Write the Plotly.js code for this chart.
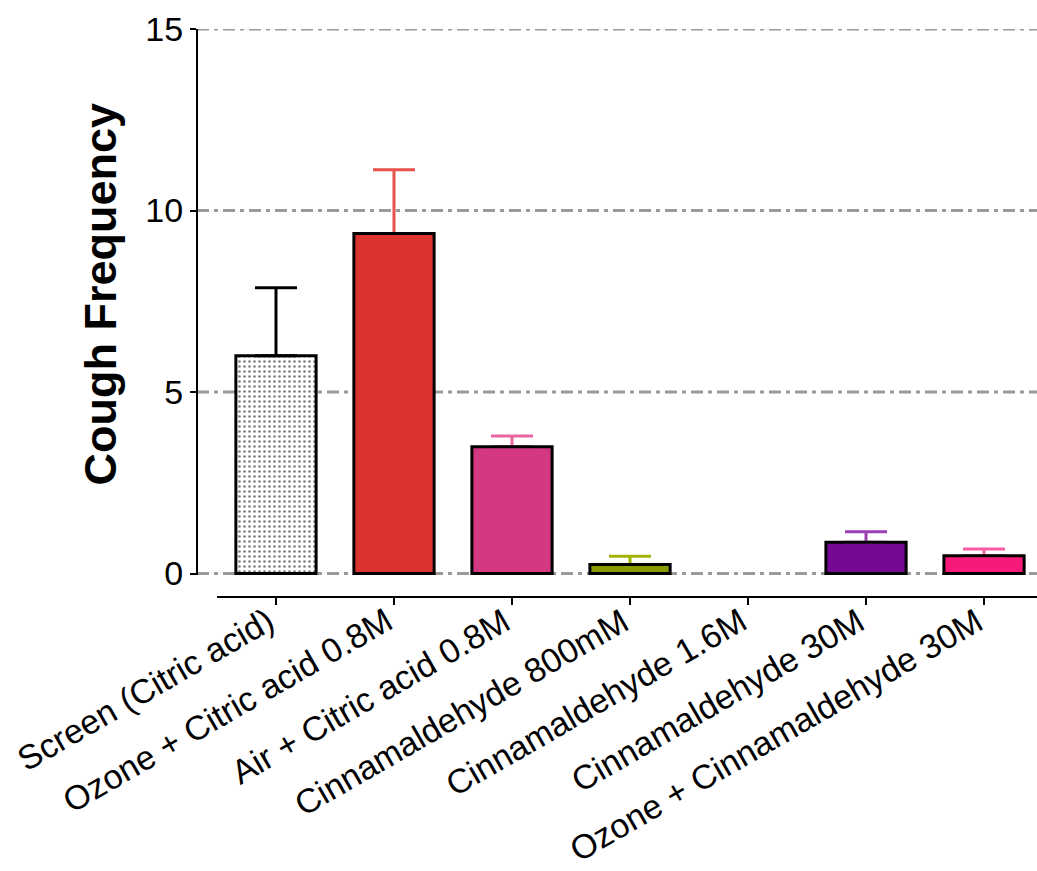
<!DOCTYPE html>
<html>
<head>
<meta charset="utf-8">
<script src="https://cdn.plot.ly/plotly-3.0.1.min.js"></script>
<style>body{margin:0;background:#fff}#chart{width:1037px;height:871px}</style>
</head>
<body>
<div id="chart"></div>
<script>
// Data
const categories = [
  "Screen (Citric acid)",
  "Ozone + Citric acid 0.8M",
  "Air + Citric acid 0.8M",
  "Cinnamaldehyde 800mM",
  "Cinnamaldehyde 1.6M",
  "Cinnamaldehyde 30M",
  "Ozone + Cinnamaldehyde 30M"
];
const means = [6.0, 9.37, 3.49, 0.25, 0, 0.86, 0.49];
const errorsUp = [1.87, 1.75, 0.3, 0.23, 0, 0.29, 0.19];
const fillColors = ["#ffffff", "#DC3331", "#D43881", "#8A9B00", "#ffffff", "#750895", "#F81A7A"];
const errorColors = ["#000000", "#E8504C", "#E8649F", "#A3B500", "#000000", "#9B40B4", "#F75DA2"];
const yTickVals = [0, 5, 10, 15];
const yTickText = ["0", "5", "10", "15"];
const yTitle = "Cough Frequency";

const FONT = "'Liberation Sans', Arial, sans-serif";

const traces = categories.map((c, i) => {
  const t = {
    type: "bar",
    x: [c],
    y: [means[i]],
    width: 0.68,
    marker: {
      color: fillColors[i],
      line: {color: "#000000", width: 0}
    },
    error_y: {
      type: "data",
      symmetric: false,
      array: [errorsUp[i]],
      arrayminus: [0],
      color: errorColors[i],
      thickness: 3,
      width: 21,
      visible: means[i] > 0
    },
    showlegend: false,
    hoverinfo: "skip"
  };
  if (i === 0) {
    t.marker.pattern = {shape: ".", fgcolor: "#000000", bgcolor: "#ffffff", size: 5, solidity: 0.22, fillmode: "overlay"};
  }
  return t;
});

// outline bars drawn on top (cover the lower caps of the error bars)
const outline = {
  type: "bar",
  x: categories,
  y: means,
  width: 0.68,
  marker: {
    color: "rgba(0,0,0,0)",
    line: {color: "#000000", width: means.map(v => v > 0 ? 3 : 0)}
  },
  showlegend: false,
  hoverinfo: "skip"
};

const gridShapes = yTickVals.map(v => ({
  type: "line", xref: "paper", yref: "y",
  x0: 0, x1: 1, y0: v, y1: v,
  line: {color: "#9a9a9a", width: 3, dash: "12px,5px,4px,5px"},
  layer: "below"
}));

const labelAnnotations = categories.map(c => ({
  text: c,
  xref: "x", yref: "paper",
  x: c, y: -0.004,
  xanchor: "right", yanchor: "top",
  xshift: 6,
  textangle: -30,
  showarrow: false,
  borderpad: 0,
  font: {size: 34, family: FONT, color: "#000000"}
}));

const layout = {
  width: 1037,
  height: 871,
  margin: {l: 197, r: 0, t: 29, b: 274, pad: 0},
  paper_bgcolor: "#ffffff",
  plot_bgcolor: "#ffffff",
  barmode: "overlay",
  font: {family: FONT, color: "#000000"},
  xaxis: {
    type: "category",
    domain: [0.0238, 1],
    range: [-0.5, 6.449],
    anchor: "free",
    position: 0,
    showline: true,
    linecolor: "#000000",
    linewidth: 2,
    ticks: "outside",
    ticklen: 7,
    tickwidth: 2,
    tickcolor: "#000000",
    showticklabels: false,
    showgrid: false,
    zeroline: false,
    fixedrange: true
  },
  yaxis: {
    domain: [0.0387, 1],
    range: [-0.04, 15],
    anchor: "free",
    position: 0,
    tickvals: yTickVals,
    ticktext: yTickText,
    showline: true,
    linecolor: "#000000",
    linewidth: 2,
    ticks: "outside",
    ticklen: 6,
    tickwidth: 2,
    tickcolor: "#000000",
    tickfont: {size: 34, family: FONT, color: "#000000"},
    showgrid: false,
    zeroline: false,
    fixedrange: true
  },
  shapes: gridShapes,
  annotations: [{
    text: "<b>" + yTitle + "</b>",
    xref: "paper", yref: "paper",
    x: -0.1143, y: 0.5343,
    xanchor: "center", yanchor: "middle",
    textangle: -90,
    showarrow: false,
    font: {size: 45, family: FONT, color: "#000000"}
  }].concat(labelAnnotations)
};

Plotly.newPlot("chart", traces.concat([outline]), layout, {displayModeBar: false, staticPlot: true});
</script>
</body>
</html>
